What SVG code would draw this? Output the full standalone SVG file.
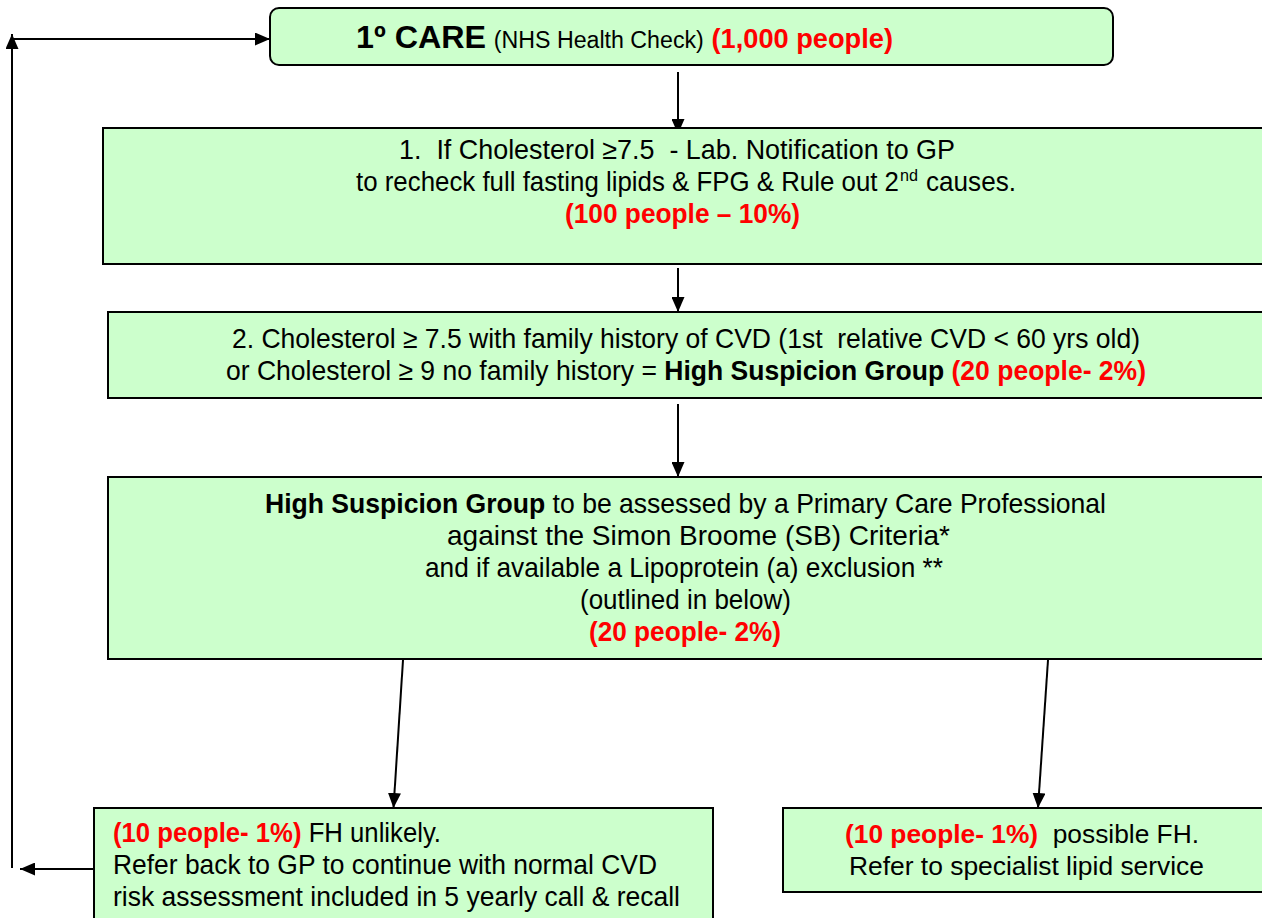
<svg xmlns="http://www.w3.org/2000/svg" width="1262" height="918" viewBox="0 0 1262 918">
<style>
.box{fill:#CCFFCC;stroke:#000;stroke-width:2}
.t{font-family:"Liberation Sans",Arial,sans-serif;font-size:27.5px;fill:#000}
.n{font-size:26px}
.sup{font-size:16px}
.b{font-weight:bold}
.r{fill:#FF0000;font-weight:bold}
.ln{stroke:#000;stroke-width:2;fill:none}
</style>
<defs>
<marker id="ah" markerWidth="15" markerHeight="13" refX="15" refY="6.5" orient="auto" markerUnits="userSpaceOnUse">
<path d="M0,0 L15,6.5 L0,13 Z" fill="#000"/>
</marker>
</defs>
<rect width="1262" height="918" fill="#fff"/>

<g id="connectors">
<line class="ln" x1="678" y1="72" x2="678" y2="134" marker-end="url(#ah)"/>
<line class="ln" x1="678" y1="268" x2="678" y2="312" marker-end="url(#ah)"/>
<line class="ln" x1="678" y1="404" x2="678" y2="477" marker-end="url(#ah)"/>
<line class="ln" x1="403" y1="660" x2="393.5" y2="808" marker-end="url(#ah)"/>
<line class="ln" x1="1048" y1="660" x2="1038" y2="808" marker-end="url(#ah)"/>
<line class="ln" x1="94" y1="869" x2="20" y2="869" marker-end="url(#ah)"/>
<line class="ln" x1="12" y1="868" x2="12" y2="34" marker-end="url(#ah)"/>
<line class="ln" x1="12" y1="39" x2="270" y2="39" marker-end="url(#ah)"/>
</g>

<g id="care">
<rect class="box" x="270" y="8" width="843" height="57" rx="9"/>
<text class="t" y="48" x="356" textLength="537" lengthAdjust="spacingAndGlyphs"><tspan class="b" font-size="32">1º CARE</tspan> <tspan font-size="23">(NHS Health Check)</tspan> <tspan class="r" font-size="27">(1,000 people)</tspan></text>
</g>

<g id="step1">
<rect class="box" x="103" y="128" width="1170" height="136"/>
<text class="t" x="399" y="159" textLength="556" lengthAdjust="spacingAndGlyphs" xml:space="preserve">1.  If Cholesterol ≥7.5  - Lab. Notification to GP</text>
<text class="t" x="356" y="191" textLength="543" lengthAdjust="spacingAndGlyphs">to recheck full fasting lipids &amp; FPG &amp; Rule out 2</text>
<text class="t sup" x="900" y="181" textLength="18" lengthAdjust="spacingAndGlyphs">nd</text>
<text class="t" x="926" y="191" textLength="90" lengthAdjust="spacingAndGlyphs">causes.</text>
<text class="t r" x="565" y="223" textLength="235" lengthAdjust="spacingAndGlyphs">(100 people – 10%)</text>
</g>

<g id="step2">
<rect class="box" x="108" y="312" width="1165" height="86"/>
<text class="t" x="232" y="348" textLength="908" lengthAdjust="spacingAndGlyphs" xml:space="preserve">2. Cholesterol ≥ 7.5 with family history of CVD (1st  relative CVD &lt; 60 yrs old)</text>
<text class="t" x="226" y="380" textLength="920" lengthAdjust="spacingAndGlyphs">or Cholesterol ≥ 9 no family history = <tspan class="b">High Suspicion Group</tspan> <tspan class="r">(20 people- 2%)</tspan></text>
</g>

<g id="step3">
<rect class="box" x="108" y="477" width="1165" height="182"/>
<text class="t" x="265" y="513" textLength="841" lengthAdjust="spacingAndGlyphs"><tspan class="b">High Suspicion Group</tspan> to be assessed by a Primary Care Professional</text>
<text class="t" x="447" y="545" textLength="503" lengthAdjust="spacingAndGlyphs">against the Simon Broome (SB) Criteria*</text>
<text class="t" x="425" y="577" textLength="518" lengthAdjust="spacingAndGlyphs">and if available a Lipoprotein (a) exclusion **</text>
<text class="t" x="580" y="609" textLength="211" lengthAdjust="spacingAndGlyphs">(outlined in below)</text>
<text class="t r" x="589" y="641" textLength="192" lengthAdjust="spacingAndGlyphs">(20 people- 2%)</text>
</g>

<g id="unlikely">
<rect class="box" x="94" y="808" width="619" height="120"/>
<text class="t" x="113" y="842" textLength="328" lengthAdjust="spacingAndGlyphs"><tspan class="r">(10 people- 1%)</tspan> FH unlikely.</text>
<text class="t" x="113" y="874" textLength="544" lengthAdjust="spacingAndGlyphs">Refer back to GP to continue with normal CVD</text>
<text class="t" x="113" y="906" textLength="567" lengthAdjust="spacingAndGlyphs">risk assessment included in 5 yearly call &amp; recall</text>
</g>

<g id="possible">
<rect class="box" x="783" y="808" width="490" height="84"/>
<text class="t n" x="845" y="843" textLength="354" lengthAdjust="spacingAndGlyphs" xml:space="preserve"><tspan class="r">(10 people- 1%)</tspan>  possible FH.</text>
<text class="t n" x="849" y="875" textLength="355" lengthAdjust="spacingAndGlyphs">Refer to specialist lipid service</text>
</g>
</svg>
